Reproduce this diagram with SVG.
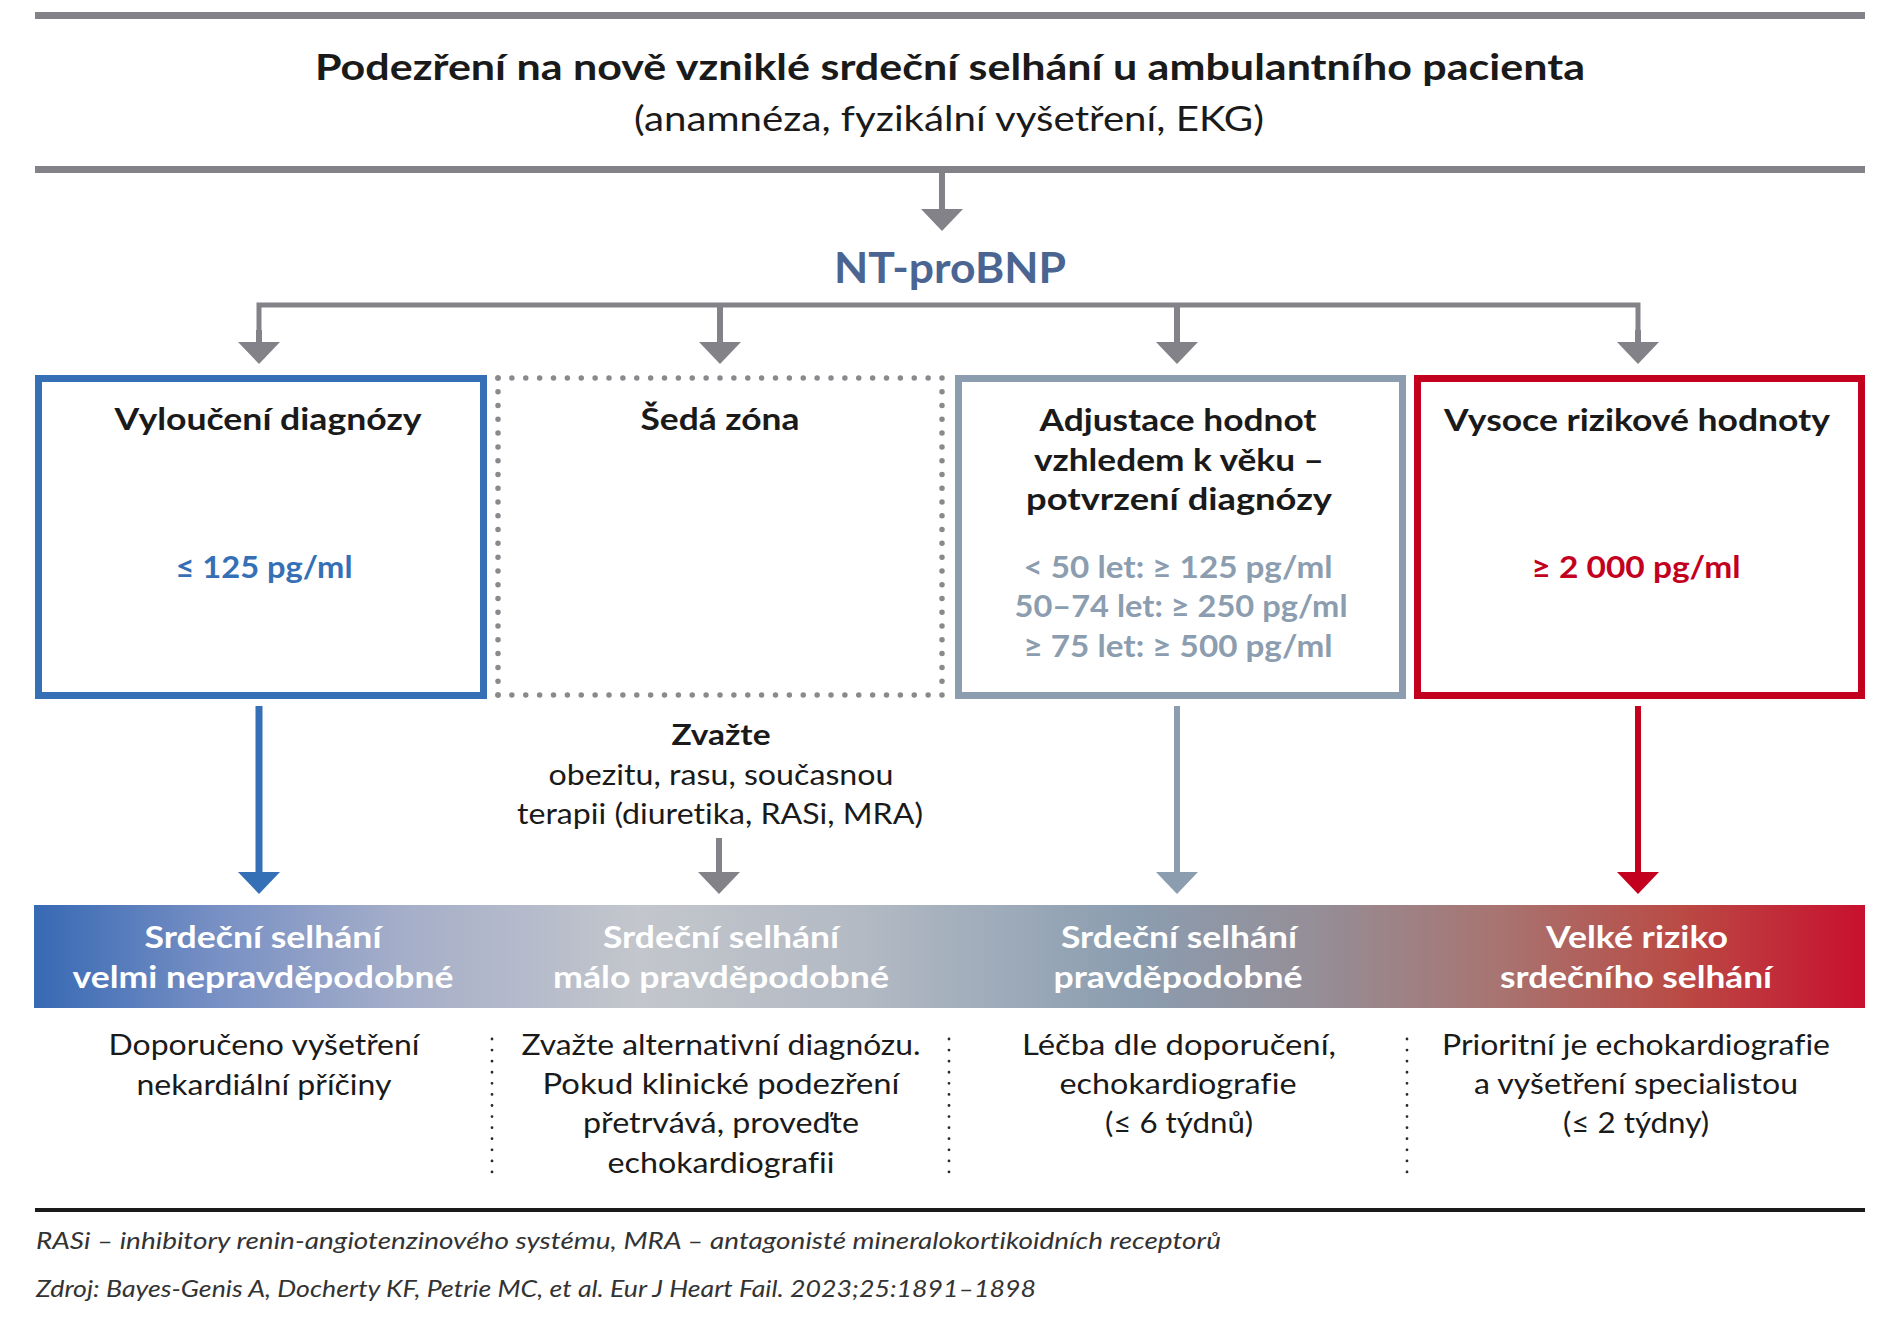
<svg xmlns="http://www.w3.org/2000/svg" width="1900" height="1320" viewBox="0 0 1900 1320">
<style>
text{font-family:Lato,"Noto Sans","Liberation Sans",sans-serif;text-anchor:middle;fill:#1a1a1a;font-variant-ligatures:none}
.title{font-size:37px;font-weight:700}
.sub{font-size:34px}
.nt{font-size:42px;font-weight:700;fill:#4a6591}
.bt{font-size:30px;font-weight:700}
.val{font-size:30px;font-weight:700}
.bar{font-size:30px;font-weight:700;fill:#fff}
.body{font-size:29px}
.foot{font-size:23px;font-style:italic;text-anchor:start;fill:#333}
.gr{stroke:#838288;fill:none}
.dots{fill:none;stroke:#8a8a8e;stroke-width:5.5;stroke-linecap:round}
.sep{fill:none;stroke:#2a2a2a;stroke-width:2.8;stroke-linecap:round;stroke-dasharray:0 11.08}
</style>
<defs>
<marker id="ag" markerUnits="userSpaceOnUse" markerWidth="22" markerHeight="42" viewBox="0 0 22 42" refX="0" refY="21" orient="auto"><path d="M0,0 L22,21 L0,42 Z" fill="#838288"/></marker>
<marker id="ab" markerUnits="userSpaceOnUse" markerWidth="22" markerHeight="42" viewBox="0 0 22 42" refX="0" refY="21" orient="auto"><path d="M0,0 L22,21 L0,42 Z" fill="#3570b6"/></marker>
<marker id="as" markerUnits="userSpaceOnUse" markerWidth="22" markerHeight="42" viewBox="0 0 22 42" refX="0" refY="21" orient="auto"><path d="M0,0 L22,21 L0,42 Z" fill="#8b9daf"/></marker>
<marker id="ar" markerUnits="userSpaceOnUse" markerWidth="22" markerHeight="42" viewBox="0 0 22 42" refX="0" refY="21" orient="auto"><path d="M0,0 L22,21 L0,42 Z" fill="#c4001f"/></marker>
<linearGradient id="barg" x1="0" y1="0" x2="1" y2="0">
<stop offset="0" stop-color="#3769b4"/>
<stop offset="0.1" stop-color="#7890c4"/>
<stop offset="0.2" stop-color="#a5aec9"/>
<stop offset="0.33" stop-color="#c3c6cc"/>
<stop offset="0.45" stop-color="#b3bac4"/>
<stop offset="0.6" stop-color="#8b9db0"/>
<stop offset="0.7" stop-color="#958e97"/>
<stop offset="0.8" stop-color="#a87471"/>
<stop offset="0.9" stop-color="#ba4a44"/>
<stop offset="1" stop-color="#c8102e"/>
</linearGradient>
</defs>

<g id="header">
<rect x="35" y="12" width="1830" height="7" fill="#838288"/>
<text class="title" x="950" y="80" textLength="1270" lengthAdjust="spacingAndGlyphs">Podezření na nově vzniklé srdeční selhání u ambulantního pacienta</text>
<text class="sub" x="949" y="131" textLength="630" lengthAdjust="spacingAndGlyphs">(anamnéza, fyzikální vyšetření, EKG)</text>
<rect x="35" y="166" width="1830" height="7" fill="#838288"/>
</g>

<g id="ntprobnp">
<text class="nt" x="950" y="283" textLength="232" lengthAdjust="spacingAndGlyphs">NT-proBNP</text>
</g>

<g id="connectors">
<path class="gr" stroke-width="6" d="M942,173 V209" marker-end="url(#ag)"/>
<path class="gr" stroke-width="5" d="M259,342 V305 H1638 V342"/>
<path class="gr" stroke-width="6" d="M259,330 V342" marker-end="url(#ag)"/>
<path class="gr" stroke-width="6" d="M720,305 V342" marker-end="url(#ag)"/>
<path class="gr" stroke-width="6" d="M1177,305 V342" marker-end="url(#ag)"/>
<path class="gr" stroke-width="6" d="M1638,330 V342" marker-end="url(#ag)"/>
<path fill="none" stroke="#3570b6" stroke-width="7" d="M259,706 V872" marker-end="url(#ab)"/>
<path class="gr" stroke-width="6" d="M719,838 V872" marker-end="url(#ag)"/>
<path fill="none" stroke="#8b9daf" stroke-width="6" d="M1177,706 V872" marker-end="url(#as)"/>
<path fill="none" stroke="#c4001f" stroke-width="6" d="M1638,706 V872" marker-end="url(#ar)"/>
</g>

<g id="box-vylouceni">
<rect x="38.5" y="378.5" width="445" height="317" fill="none" stroke="#3570b6" stroke-width="7"/>
<text class="bt" x="268" y="430" textLength="307" lengthAdjust="spacingAndGlyphs">Vyloučení diagnózy</text>
<text class="val" x="264" y="578" style="fill:#3570b6" textLength="177" lengthAdjust="spacingAndGlyphs">≤ 125 pg/ml</text>
</g>

<g id="box-seda">
<path class="dots" d="M498,378 H942 M498,695 H942" stroke-dasharray="0 13.875"/>
<path class="dots" d="M498,378 V695 M942,378 V695" stroke-dasharray="0 13.78"/>
<text class="bt" x="720" y="430" textLength="159" lengthAdjust="spacingAndGlyphs">Šedá zóna</text>
</g>

<g id="box-adjustace">
<rect x="958.5" y="378.5" width="444" height="317" fill="none" stroke="#8b9daf" stroke-width="7"/>
<text class="bt" x="1178" y="431" textLength="277" lengthAdjust="spacingAndGlyphs">Adjustace hodnot</text>
<text class="bt" x="1179" y="471" textLength="290" lengthAdjust="spacingAndGlyphs">vzhledem k věku –</text>
<text class="bt" x="1179" y="510" textLength="306" lengthAdjust="spacingAndGlyphs">potvrzení diagnózy</text>
<text class="val" x="1178" y="578" style="fill:#8b9daf" textLength="309" lengthAdjust="spacingAndGlyphs">&lt; 50 let: ≥ 125 pg/ml</text>
<text class="val" x="1181" y="617" style="fill:#8b9daf" textLength="333" lengthAdjust="spacingAndGlyphs">50–74 let: ≥ 250 pg/ml</text>
<text class="val" x="1178" y="657" style="fill:#8b9daf" textLength="309" lengthAdjust="spacingAndGlyphs">≥ 75 let: ≥ 500 pg/ml</text>
</g>

<g id="box-vysoce">
<rect x="1417.5" y="378.5" width="444" height="317" fill="none" stroke="#c4001f" stroke-width="7"/>
<text class="bt" x="1637" y="431" textLength="386" lengthAdjust="spacingAndGlyphs">Vysoce rizikové hodnoty</text>
<text class="val" x="1636" y="578" style="fill:#c4001f" textLength="209" lengthAdjust="spacingAndGlyphs">≥ 2 000 pg/ml</text>
</g>

<g id="zvazte">
<text class="bt" x="721" y="745" style="font-size:28px" textLength="99" lengthAdjust="spacingAndGlyphs">Zvažte</text>
<text class="body" x="721" y="785" textLength="345" lengthAdjust="spacingAndGlyphs">obezitu, rasu, současnou</text>
<text class="body" x="720" y="824" textLength="406" lengthAdjust="spacingAndGlyphs">terapii (diuretika, RASi, MRA)</text>
</g>

<g id="bar">
<rect x="34" y="905" width="1831" height="103" fill="url(#barg)"/>
</g>

<g id="outcome-1">
<text class="bar" x="263" y="948" textLength="237" lengthAdjust="spacingAndGlyphs">Srdeční selhání</text>
<text class="bar" x="263" y="988" textLength="381" lengthAdjust="spacingAndGlyphs">velmi nepravděpodobné</text>
<text class="body" x="264" y="1055" textLength="311" lengthAdjust="spacingAndGlyphs">Doporučeno vyšetření</text>
<text class="body" x="264" y="1095" textLength="255" lengthAdjust="spacingAndGlyphs">nekardiální příčiny</text>
</g>

<g id="outcome-2">
<text class="bar" x="721" y="948" textLength="236" lengthAdjust="spacingAndGlyphs">Srdeční selhání</text>
<text class="bar" x="721" y="988" textLength="336" lengthAdjust="spacingAndGlyphs">málo pravděpodobné</text>
<text class="body" x="721" y="1055" textLength="399" lengthAdjust="spacingAndGlyphs">Zvažte alternativní diagnózu.</text>
<text class="body" x="721" y="1094" textLength="357" lengthAdjust="spacingAndGlyphs">Pokud klinické podezření</text>
<text class="body" x="721" y="1133" textLength="276" lengthAdjust="spacingAndGlyphs">přetrvává, proveďte</text>
<text class="body" x="721" y="1173" textLength="227" lengthAdjust="spacingAndGlyphs">echokardiografii</text>
</g>

<g id="outcome-3">
<text class="bar" x="1179" y="948" textLength="236" lengthAdjust="spacingAndGlyphs">Srdeční selhání</text>
<text class="bar" x="1178" y="988" textLength="249" lengthAdjust="spacingAndGlyphs">pravděpodobné</text>
<text class="body" x="1179" y="1055" textLength="314" lengthAdjust="spacingAndGlyphs">Léčba dle doporučení,</text>
<text class="body" x="1178" y="1094" textLength="237" lengthAdjust="spacingAndGlyphs">echokardiografie</text>
<text class="body" x="1179" y="1133" textLength="148" lengthAdjust="spacingAndGlyphs">(≤ 6 týdnů)</text>
</g>

<g id="outcome-4">
<text class="bar" x="1637" y="948" textLength="182" lengthAdjust="spacingAndGlyphs">Velké riziko</text>
<text class="bar" x="1636" y="988" textLength="272" lengthAdjust="spacingAndGlyphs">srdečního selhání</text>
<text class="body" x="1636" y="1055" textLength="388" lengthAdjust="spacingAndGlyphs">Prioritní je echokardiografie</text>
<text class="body" x="1636" y="1094" textLength="324" lengthAdjust="spacingAndGlyphs">a vyšetření specialistou</text>
<text class="body" x="1636" y="1133" textLength="146" lengthAdjust="spacingAndGlyphs">(≤ 2 týdny)</text>
</g>

<g id="separators">
<path class="sep" d="M492,1039 V1172 M949,1039 V1172 M1407,1039 V1172"/>
</g>

<g id="footer">
<rect x="35" y="1208" width="1830" height="4" fill="#1a1a1a"/>
<text class="foot" x="36" y="1249" textLength="1185" lengthAdjust="spacingAndGlyphs">RASi – inhibitory renin-angiotenzinového systému, MRA – antagonisté mineralokortikoidních receptorů</text>
<text class="foot" x="36" y="1297" textLength="1000" lengthAdjust="spacingAndGlyphs">Zdroj: Bayes-Genis A, Docherty KF, Petrie MC, et al. Eur J Heart Fail. 2023;25:1891–1898</text>
</g>
</svg>
